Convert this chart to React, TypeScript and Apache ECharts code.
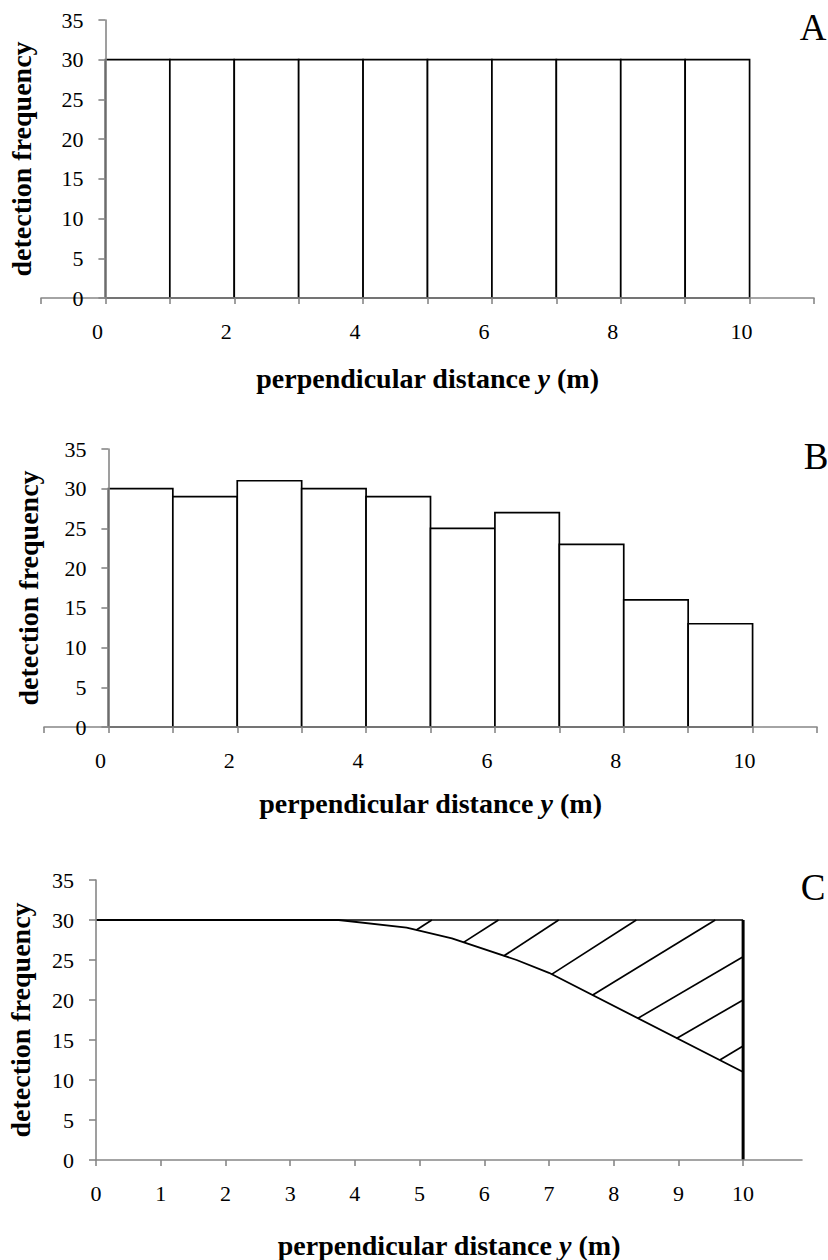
import React, { useEffect, useRef } from "react";
import * as echarts from "echarts";

// ---- data ----
const binEdges = [0, 1, 2, 3, 4, 5, 6, 7, 8, 9, 10];
const freqA = [30, 30, 30, 30, 30, 30, 30, 30, 30, 30];
const freqB = [30, 29, 31, 30, 29, 25, 27, 23, 16, 13];
const curveX = [0, 3.75, 4.8, 5.5, 6.5, 7, 10];
const curveY = [30, 30, 29.05, 27.7, 25.0, 23.4, 11.0];
const hatchStartX = [4.95, 5.68, 6.3, 7.04, 7.67, 8.37, 8.97, 9.64];
const hatchStartY = [28.76, 27.2, 25.5, 23.2, 20.6, 17.7, 15.2, 12.5];
const hatchEndX = [5.19, 6.22, 7.15, 8.35, 9.57, 10, 10, 10];
const hatchEndY = [30, 30, 30, 30, 30, 25.4, 20.0, 14.25];
const envelopeTop = 30;
const envelopeRight = 10;
const yTicks = [0, 5, 10, 15, 20, 25, 30, 35];
const xLabelsAB = [0, 2, 4, 6, 8, 10];
const xLabelsC = [0, 1, 2, 3, 4, 5, 6, 7, 8, 9, 10];
const panelLetters = ["A", "B", "C"];
const yTitle = "detection frequency";
const xTitleParts = ["perpendicular distance ", "y", " (m)"];

const FONT = "Liberation Serif";
const AXIS_GRAY = "#878787";

export default function App() {
  const ref = useRef<HTMLDivElement>(null);
  useEffect(() => {
    if (!ref.current) return;
    const chart = echarts.init(ref.current, undefined, { renderer: "svg" });

    const gridBase = { containLabel: false, outerBoundsMode: "none" };
    const grids = [
      { ...gridBase, left: 41, top: 20, width: 773, height: 278 },
      { ...gridBase, left: 44, top: 449, width: 773, height: 278 },
      { ...gridBase, left: 96, top: 880, width: 706, height: 280 },
    ];
    // one x unit in px for panels A/B (axis spans 12 units)
    const unitAB = 773 / 12;

    const xName = `{a|${xTitleParts[0]}}{b|${xTitleParts[1]}}{a|${xTitleParts[2]}}`;
    const titleStyle = { fontFamily: FONT, fontSize: 28, fontWeight: "bold" as const, color: "#000" };

    const mkX = (gi: number, min: number, max: number, labels: number[], pad: number, gap: number) => ({
      gridIndex: gi,
      type: "value",
      min,
      max,
      interval: 1,
      z: 5,
      axisLine: { show: true, onZero: false, lineStyle: { color: AXIS_GRAY, width: 1.6 } },
      axisTick: {
        show: true,
        length: 6,
        lineStyle: { color: AXIS_GRAY, width: 1.6 },
        ...(gi === 2 ? { customValues: labels } : {}),
      },
      axisLabel: {
        customValues: labels,
        fontFamily: FONT,
        fontSize: 22,
        color: "#000",
        margin: 22,
        padding: [0, pad, 0, 0],
        formatter: (v: number) => String(v),
      },
      splitLine: { show: false },
      name: xName,
      nameLocation: "middle",
      nameGap: gap,
      nameTextStyle: {
        ...titleStyle,
        rich: {
          a: { ...titleStyle },
          b: { ...titleStyle, fontStyle: "italic" },
        },
      },
    });

    const mkY = (gi: number, gap: number, offset: number) => ({
      gridIndex: gi,
      type: "value",
      min: 0,
      max: 35,
      interval: 5,
      z: 5,
      offset,
      axisLine: { show: true, onZero: false, lineStyle: { color: AXIS_GRAY, width: 1.6 } },
      axisTick: { show: true, length: 7, lineStyle: { color: AXIS_GRAY, width: 1.6 } },
      axisLabel: {
        customValues: yTicks,
        fontFamily: FONT,
        fontSize: 22,
        color: "#000",
        margin: 22,
      },
      splitLine: { show: false },
      name: yTitle,
      nameLocation: "middle",
      nameRotate: 90,
      nameGap: gap,
      nameTextStyle: titleStyle,
    });

    const barRender = (params: any, api: any) => {
      const p0 = api.coord([api.value(0), api.value(2)]);
      const p1 = api.coord([api.value(1), 0]);
      return {
        type: "rect",
        shape: { x: p0[0], y: p0[1], width: p1[0] - p0[0], height: p1[1] - p0[1] },
        style: { fill: "#fff", stroke: "#000", lineWidth: 1.7 },
      };
    };

    const histSeries = (gi: number, vals: number[]) => ({
      type: "custom",
      xAxisIndex: gi,
      yAxisIndex: gi,
      renderItem: barRender,
      encode: { x: [0, 1], y: 2 },
      data: vals.map((v, i) => [binEdges[i], binEdges[i + 1], v]),
      z: 2,
    });

    const hatchData = hatchStartX.map((x, i) => [x, hatchStartY[i], hatchEndX[i], hatchEndY[i]]);

    const option: any = {
      animation: false,
      backgroundColor: "#fff",
      textStyle: { fontFamily: FONT },
      grid: grids,
      xAxis: [
        mkX(0, -1, 11, xLabelsAB, 16, 66),
        mkX(1, -1, 11, xLabelsAB, 16, 62),
        mkX(2, 0, 10.91, xLabelsC, 0, 71),
      ],
      yAxis: [mkY(0, 70, -unitAB), mkY(1, 66, -unitAB), mkY(2, 62, 0)],
      series: [
        histSeries(0, freqA),
        histSeries(1, freqB),
        {
          type: "custom",
          xAxisIndex: 2,
          yAxisIndex: 2,
          encode: { x: [0, 2], y: [1, 3] },
          data: hatchData,
          renderItem: (params: any, api: any) => {
            const a = api.coord([api.value(0), api.value(1)]);
            const b = api.coord([api.value(2), api.value(3)]);
            return {
              type: "line",
              shape: { x1: a[0], y1: a[1], x2: b[0], y2: b[1] },
              style: { stroke: "#000", lineWidth: 1.7 },
            };
          },
          z: 2,
        },
        {
          type: "line",
          xAxisIndex: 2,
          yAxisIndex: 2,
          symbol: "none",
          data: [
            [0, envelopeTop],
            [envelopeRight, envelopeTop],
          ],
          lineStyle: { color: "#000", width: 1.7 },
          z: 3,
        },
        {
          type: "line",
          xAxisIndex: 2,
          yAxisIndex: 2,
          symbol: "none",
          data: [
            [envelopeRight, 0],
            [envelopeRight, envelopeTop],
          ],
          lineStyle: { color: "#000", width: 3 },
          z: 3,
        },
        {
          type: "line",
          xAxisIndex: 2,
          yAxisIndex: 2,
          symbol: "none",
          data: curveX.map((x, i) => [x, curveY[i]]),
          lineStyle: { color: "#000", width: 1.8 },
          z: 3,
        },
      ],
      graphic: [
        { type: "text", x: 813, y: 27, style: { text: panelLetters[0], fontFamily: FONT, fontSize: 37, fill: "#000", textAlign: "center", textVerticalAlign: "middle" } },
        { type: "text", x: 816, y: 456, style: { text: panelLetters[1], fontFamily: FONT, fontSize: 37, fill: "#000", textAlign: "center", textVerticalAlign: "middle" } },
        { type: "text", x: 813, y: 887, style: { text: panelLetters[2], fontFamily: FONT, fontSize: 37, fill: "#000", textAlign: "center", textVerticalAlign: "middle" } },
      ],
    };

    chart.setOption(option);
    return () => chart.dispose();
  }, []);

  return (
    <div
      ref={ref}
      style={{ position: "absolute", left: 0, top: 0, width: 828, height: 1260 }}
    />
  );
}
